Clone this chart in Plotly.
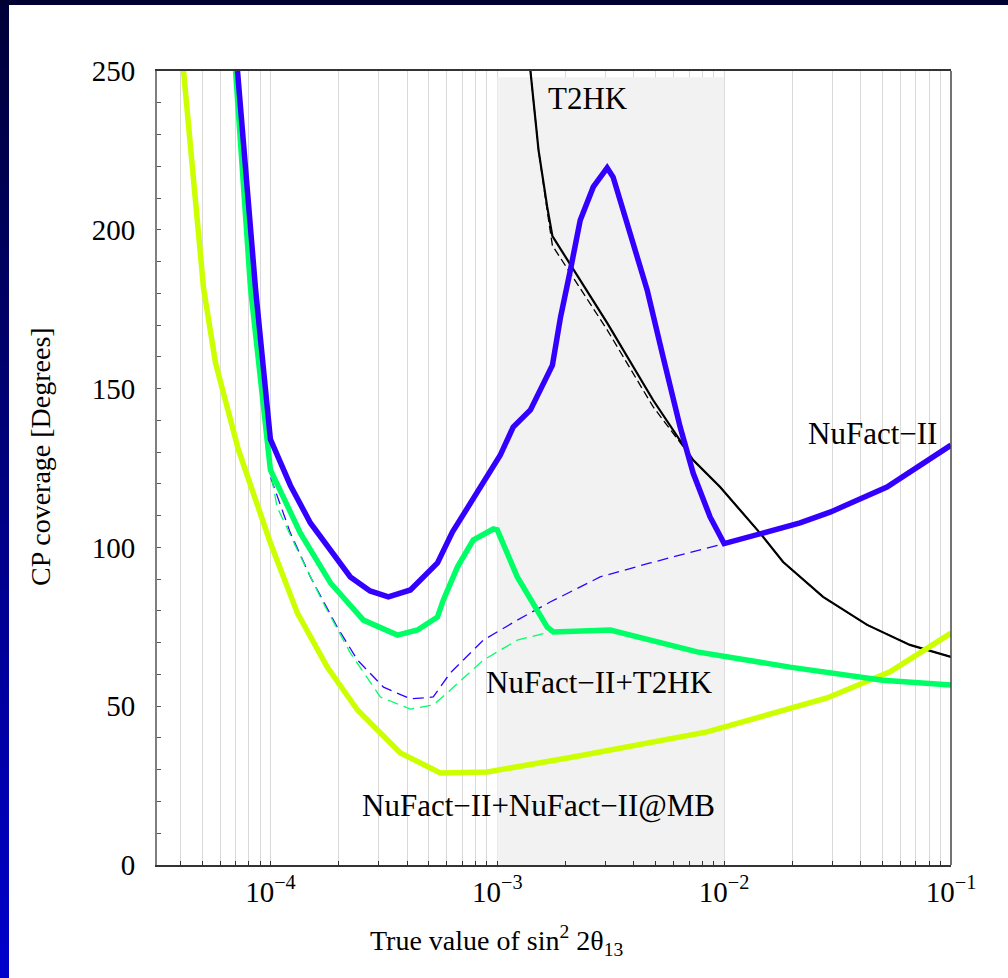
import plotly.graph_objects as go

# ---- data: CP coverage (degrees) versus true sin^2(2 theta_13) ----
nufact_x = [7.16e-5, 8.59e-5, 1.0e-4, 1.225e-4, 1.5e-4, 2.25e-4, 2.75e-4, 3.31e-4, 4.14e-4,
            5.45e-4, 6.34e-4, 8.41e-4, 1.03e-3, 1.175e-3, 1.40e-3, 1.75e-3, 1.90e-3, 2.10e-3,
            2.32e-3, 2.65e-3, 3.05e-3, 3.24e-3, 3.85e-3, 4.58e-3, 5.38e-3, 6.40e-3, 7.30e-3,
            8.67e-3, 1.0e-2, 2.16e-2, 2.93e-2, 5.22e-2, 1.0e-1]
nufact_y = [250, 181.7, 134, 119.5, 107.7, 90.7, 86.3, 84.4, 86.6,
            95.1, 104.8, 119, 129, 137.9, 143.3, 157.4, 172.5, 187.3,
            203, 213.5, 219.5, 216.6, 199, 181, 160, 137.9, 123.4,
            109.6, 101.2, 107.7, 111.1, 119, 132.2]

combo_x = [7.02e-5, 8.17e-5, 1.0e-4, 1.355e-4, 1.84e-4, 2.57e-4, 3.63e-4, 4.45e-4, 5.45e-4,
           5.78e-4, 6.67e-4, 7.83e-4, 9.6e-4, 1.0e-3, 1.225e-3, 1.66e-3, 1.77e-3, 3.15e-3,
           7.6e-3, 1.95e-2, 5.0e-2, 1.0e-1]
combo_y = [250, 181.7, 124.4, 104.5, 88.8, 77.1, 72.4, 74, 78.1,
           83.4, 93.8, 102.3, 105.8, 105.5, 90.7, 74.9, 73.4, 74,
           67.1, 62.3, 58.2, 56.7]

mb_x = [4.14e-5, 5.07e-5, 5.73e-5, 7.23e-5, 1.0e-4, 1.315e-4, 1.78e-4, 2.42e-4, 3.74e-4,
        5.61e-4, 9.04e-4, 2.16e-3, 8.41e-3, 1.44e-2, 2.84e-2, 5.38e-2, 1.0e-1]
mb_y = [250, 181.7, 158, 130.7, 101.4, 79.3, 62.3, 48.8, 35.3,
        29, 29.3, 34, 41.9, 46.6, 52.6, 60.8, 73]

t2hk_x = [1.40e-3, 1.52e-3, 1.66e-3, 1.75e-3, 3.05e-3, 4.86e-3, 7.30e-3, 9.6e-3,
          1.44e-2, 1.82e-2, 2.73e-2, 4.27e-2, 6.59e-2, 1.0e-1]
t2hk_y = [250, 225.1, 207.2, 198, 170.7, 146.4, 127.5, 119,
          104.5, 95.4, 84.4, 75.6, 69.3, 65.5]

t2hk_alt_x = [1.40e-3, 1.52e-3, 1.66e-3, 1.75e-3, 3.05e-3, 4.86e-3, 6.40e-3, 7.30e-3, 9.6e-3,
              1.44e-2, 1.82e-2, 2.73e-2, 4.27e-2, 6.59e-2, 1.0e-1]
t2hk_alt_y = [250, 225.1, 206, 195, 168.5, 144.3, 133, 127.5, 119,
              104.5, 95.4, 84.4, 75.6, 69.3, 65.5]

nufact_alt_x = [7.16e-5, 8.59e-5, 9.77e-5, 1.0e-4, 1.225e-4, 1.5e-4, 1.97e-4, 2.42e-4, 3.15e-4,
                4.14e-4, 5.22e-4, 6.21e-4, 8.67e-4, 1.225e-3, 1.71e-3, 2.84e-3, 4.72e-3, 1.0e-2]
nufact_alt_y = [250, 181.7, 136, 122.2, 104.5, 90.7, 74.9, 64.5, 56,
                52.3, 52.9, 60.5, 70.8, 77.1, 82.8, 90.7, 95.1, 101.2]

combo_alt_x = [7.02e-5, 8.17e-5, 9.6e-5, 1.07e-4, 1.315e-4, 1.71e-4, 2.25e-4, 3.05e-4,
               4.14e-4, 5.22e-4, 6.21e-4, 8.67e-4, 1.225e-3, 1.71e-3]
combo_alt_y = [250, 181.7, 131, 112.7, 99.2, 82.5, 66.8, 52.9,
               49.1, 50.4, 55.1, 64.5, 70.8, 73.4]

band_x = [1e-3, 1e-2]
band_top = 248

y_major = [0, 50, 100, 150, 200, 250]
y_labels = [str(v) for v in y_major]
y_minor = [v for v in range(0, 251, 10) if v % 50 != 0]

x_major = [1e-4, 1e-3, 1e-2, 1e-1]
x_labels = ["10<sup>\u22124</sup>", "10<sup>\u22123</sup>", "10<sup>\u22122</sup>",
            "10<sup>\u22121</sup>"]
x_minor = []
for e in (-5, -4, -3, -2):
    for m in range(2, 10):
        v = m * 10.0 ** e
        if 10 ** -4.5 <= v <= 0.1:
            x_minor.append(v)

BLUE = "#3300ff"
GREEN = "#00ff66"
YELLOW = "#ccff00"
SERIF = "Liberation Serif"

fig = go.Figure()

# shaded sensitivity band
fig.add_trace(go.Scatter(
    x=[band_x[0], band_x[1], band_x[1], band_x[0], band_x[0]],
    y=[0, 0, band_top, band_top, 0],
    fill="toself", fillcolor="#f2f2f2", mode="lines", line=dict(width=0),
    hoverinfo="skip", showlegend=False))

dash_style = dict(width=1.3, dash="11px,6px")
fig.add_trace(go.Scatter(x=nufact_alt_x, y=nufact_alt_y, mode="lines",
                         line=dict(color=BLUE, **dash_style), showlegend=False))
fig.add_trace(go.Scatter(x=combo_alt_x, y=combo_alt_y, mode="lines",
                         line=dict(color=GREEN, **dash_style), showlegend=False))
fig.add_trace(go.Scatter(x=t2hk_alt_x, y=t2hk_alt_y, mode="lines",
                         line=dict(color="black", width=1.3, dash="8px,4px"), showlegend=False))
fig.add_trace(go.Scatter(x=t2hk_x, y=t2hk_y, mode="lines",
                         line=dict(color="black", width=2.2), showlegend=False))
fig.add_trace(go.Scatter(x=mb_x, y=mb_y, mode="lines",
                         line=dict(color=YELLOW, width=5.5), showlegend=False))
fig.add_trace(go.Scatter(x=combo_x, y=combo_y, mode="lines",
                         line=dict(color=GREEN, width=5.5), showlegend=False))
fig.add_trace(go.Scatter(x=nufact_x, y=nufact_y, mode="lines",
                         line=dict(color=BLUE, width=5.5), showlegend=False))

# page geometry in pixels
W, H = 1008, 978
L, R, T, B = 157, 57, 71, 113
PW, PH = W - L - R, H - T - B


def px(xp):
    return (xp - L) / PW


def py(yp):
    return (H - B - yp) / PH


shapes = []
# dark frame: top strip and a left strip shading from navy to blue
n_bands = 60
step = (H - 5) / n_bands
for i in range(n_bands):
    y0p = 5 + step * i
    y1p = min(H, y0p + step + 1.5)
    t = (i + 0.5) / n_bands
    b = int(0x38 + (0xcc - 0x38) * t)
    shapes.append(dict(type="rect", xref="paper", yref="paper", x0=px(0), x1=px(9),
                       y0=py(y1p), y1=py(y0p), fillcolor="rgb(0,0,%d)" % b,
                       line=dict(width=0)))
shapes.append(dict(type="rect", xref="paper", yref="paper", x0=px(0), x1=px(W),
                   y0=py(5), y1=py(0), fillcolor="#000033", line=dict(width=0)))
# right frame edge
shapes.append(dict(type="line", xref="paper", yref="paper", x0=1, x1=1, y0=0, y1=1,
                   line=dict(color="#444444", width=1.5)))

label_font = dict(family=SERIF, size=31, color="black")
annotations = [
    dict(x=-2.599, y=241.2, xref="x", yref="y", text="T2HK", showarrow=False,
         font=label_font, xanchor="center", yanchor="middle"),
    dict(x=-1.344, y=136, xref="x", yref="y", text="NuFact\u2212II", showarrow=False,
         font=label_font, xanchor="center", yanchor="middle"),
    dict(x=-2.551, y=57.6, xref="x", yref="y", text="NuFact\u2212II+T2HK", showarrow=False,
         font=label_font, xanchor="center", yanchor="middle"),
    dict(x=-2.819, y=18.6, xref="x", yref="y", text="NuFact\u2212II+NuFact\u2212II@MB",
         showarrow=False, font=label_font, xanchor="center", yanchor="middle"),
    dict(x=px(497), y=py(940), xref="paper", yref="paper",
         text="True value of sin<sup>2</sup> 2\u03b8<sub>13</sub>", showarrow=False,
         font=dict(family=SERIF, size=28, color="black"), xanchor="center", yanchor="middle"),
    dict(x=px(40), y=py(457), xref="paper", yref="paper", text="CP coverage [Degrees]",
         textangle=-90, showarrow=False, font=dict(family=SERIF, size=28, color="black"),
         xanchor="center", yanchor="middle"),
]

fig.update_layout(
    width=W, height=H, margin=dict(l=L, r=R, t=T, b=B, pad=0),
    paper_bgcolor="white", plot_bgcolor="white", template="none",
    shapes=shapes, annotations=annotations, showlegend=False,
    font=dict(family=SERIF, size=29, color="black"),
    xaxis=dict(type="log", range=[-4.5, -1], tickmode="array", tickvals=x_major,
               ticktext=x_labels, ticks="inside", ticklen=4, tickwidth=1.2, tickcolor="#333333",
               showgrid=True, gridcolor="#d9d9d9", gridwidth=1, zeroline=False,
               minor=dict(tickmode="array", tickvals=x_minor, ticks="inside", ticklen=4,
                          tickwidth=1.2, tickcolor="#333333", showgrid=True,
                          gridcolor="#d9d9d9", gridwidth=1),
               showline=True, linecolor="#333333", linewidth=1.5, mirror=True,
               tickfont=dict(family=SERIF, size=29, color="black")),
    yaxis=dict(range=[0, 250], tickmode="array", tickvals=y_major, ticktext=y_labels,
               ticks="inside", ticklen=4, tickwidth=1.2, tickcolor="#555555",
               minor=dict(tickmode="array", tickvals=y_minor, ticks="inside", ticklen=4,
                          tickwidth=1.2, tickcolor="#555555", showgrid=False),
               showgrid=False, zeroline=False, showline=True, linecolor="#7f7f7f",
               linewidth=2, ticklabelstandoff=14,
               tickfont=dict(family=SERIF, size=29, color="black")),
)

fig.write_html("out.html")
